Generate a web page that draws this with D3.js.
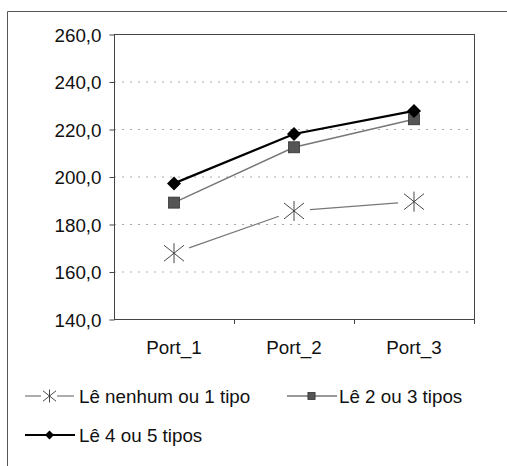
<!DOCTYPE html>
<html lang="pt">
<head>
<meta charset="utf-8">
<title>Leitura</title>
<script src="https://cdn.jsdelivr.net/npm/d3@7"></script>
<style>
  body { margin: 0; background: #fff; }
  text { font-family: "Liberation Sans", Arial, sans-serif; fill: #111; }
</style>
</head>
<body>
<script>
var w = 507, h = 466;
var fs = "18.8px";

// data
var categories = ["Port_1", "Port_2", "Port_3"];
var seriesNames = ["Lê nenhum ou 1 tipo", "Lê 2 ou 3 tipos", "Lê 4 ou 5 tipos"];
var nenhum = [167.7, 185.5, 189.4];
var doisTres = [189.0, 212.3, 224.1];
var quatroCinco = [197.1, 217.9, 227.6];
var yTicks = [140, 160, 180, 200, 220, 240, 260];

var series = [
  { name: seriesNames[0], values: nenhum, marker: "star", stroke: "#777", width: 1.2 },
  { name: seriesNames[1], values: doisTres, marker: "square", stroke: "#777", width: 1.4 },
  { name: seriesNames[2], values: quatroCinco, marker: "diamond", stroke: "#000", width: 2.2 }
];

var plot = { left: 114, right: 474, top: 34, bottom: 319 };

var x = d3.scaleBand().domain(categories).range([plot.left, plot.right]);
var y = d3.scaleLinear().domain([140, 260]).range([plot.bottom, plot.top]);

var svg = d3.select("body").append("svg").attr("width", w).attr("height", h);

// outer chart frame
svg.append("path")
  .attr("d", "M7.5," + h + "V11.5H" + w)
  .attr("fill", "none").attr("stroke", "#555").attr("stroke-width", 1);

// gridlines
svg.append("g").selectAll("line")
  .data(yTicks.slice(1, -1))
  .enter().append("line")
  .attr("x1", plot.left).attr("x2", plot.right)
  .attr("y1", function(d) { return y(d) + 0.5; })
  .attr("y2", function(d) { return y(d) + 0.5; })
  .attr("stroke", "#aaa").attr("stroke-width", 1)
  .attr("stroke-dasharray", "2,6");

// plot border
svg.append("rect")
  .attr("x", plot.left + 0.5).attr("y", plot.top + 0.5)
  .attr("width", plot.right - plot.left).attr("height", plot.bottom - plot.top)
  .attr("fill", "none").attr("stroke", "#444").attr("stroke-width", 1);

// y axis
var yAxis = d3.axisLeft(y).tickValues(yTicks).tickSize(5).tickPadding(8)
  .tickFormat(function(d) { return d3.format(".1f")(d).replace(".", ","); });
var gy = svg.append("g").attr("transform", "translate(" + (plot.left + 0.5) + ",0.5)").call(yAxis);
gy.select(".domain").remove();
gy.selectAll("line").attr("stroke", "#444");
gy.selectAll("text").attr("font-size", fs).attr("fill", "#111")
  .attr("font-family", "Liberation Sans, Arial, sans-serif").attr("dy", "0.36em");

// x axis
var xAxis = d3.axisBottom(x).tickSize(0).tickPadding(21);
var gx = svg.append("g").attr("transform", "translate(0," + (plot.bottom + 0.5) + ")").call(xAxis);
gx.select(".domain").remove();
gx.selectAll("text").attr("font-size", fs).attr("fill", "#111")
  .attr("font-family", "Liberation Sans, Arial, sans-serif");
// category separators
svg.append("g").selectAll("line")
  .data(categories.slice(1).concat(["end"]))
  .enter().append("line")
  .attr("x1", function(d, i) { return i < 2 ? x(d) + 0.5 : plot.right + 0.5; })
  .attr("x2", function(d, i) { return i < 2 ? x(d) + 0.5 : plot.right + 0.5; })
  .attr("y1", plot.bottom).attr("y2", plot.bottom + 5)
  .attr("stroke", "#444");

function cx(i) { return x(categories[i]) + x.bandwidth() / 2; }

function drawMarker(g, type, px, py, scale) {
  var s = scale || 1;
  if (type === "diamond") {
    var r = 7 * s;
    g.append("path")
      .attr("d", "M" + px + "," + (py - r) + "L" + (px + r) + "," + py + "L" + px + "," + (py + r) + "L" + (px - r) + "," + py + "Z")
      .attr("fill", "#000");
  } else if (type === "square") {
    var a = 5.5 * s;
    g.append("rect").attr("x", px - a).attr("y", py - a).attr("width", 2 * a).attr("height", 2 * a)
      .attr("fill", "#555").attr("stroke", "#333").attr("stroke-width", 0.8);
  } else {
    var r2 = 10 * s;
    var d = "M" + (px - r2) + "," + (py - r2 * 0.8) + "L" + (px + r2) + "," + (py + r2 * 0.8) +
            "M" + (px - r2) + "," + (py + r2 * 0.8) + "L" + (px + r2) + "," + (py - r2 * 0.8) +
            "M" + px + "," + (py - r2) + "L" + px + "," + (py + r2);
    g.append("path").attr("d", d).attr("stroke", "#333").attr("stroke-width", 0.9).attr("fill", "none");
  }
}

var line = d3.line().x(function(d, i) { return cx(i); }).y(function(d) { return y(d); });

series.forEach(function(s) {
  var g = svg.append("g");
  if (s.marker === "star") {
    // segments with gaps around the markers
    for (var i = 0; i < s.values.length - 1; i++) {
      var x1 = cx(i), y1 = y(s.values[i]), x2 = cx(i + 1), y2 = y(s.values[i + 1]);
      var len = Math.hypot(x2 - x1, y2 - y1), ux = (x2 - x1) / len, uy = (y2 - y1) / len, gap = 16;
      g.append("line")
        .attr("x1", x1 + ux * gap).attr("y1", y1 + uy * gap)
        .attr("x2", x2 - ux * gap).attr("y2", y2 - uy * gap)
        .attr("stroke", s.stroke).attr("stroke-width", s.width);
    }
  } else {
    g.append("path").datum(s.values).attr("d", line)
      .attr("fill", "none").attr("stroke", s.stroke).attr("stroke-width", s.width);
  }
  s.values.forEach(function(v, i) { drawMarker(g, s.marker, cx(i), y(v)); });
});

// legend
var legendPos = [[25, 396], [287, 396], [25, 435]];
series.forEach(function(s, i) {
  var lx = legendPos[i][0], ly = legendPos[i][1];
  var g = svg.append("g");
  if (s.marker === "star") {
    g.append("line").attr("x1", lx).attr("x2", lx + 16).attr("y1", ly).attr("y2", ly)
      .attr("stroke", s.stroke).attr("stroke-width", s.width);
    g.append("line").attr("x1", lx + 32).attr("x2", lx + 49).attr("y1", ly).attr("y2", ly)
      .attr("stroke", s.stroke).attr("stroke-width", s.width);
  } else {
    g.append("line").attr("x1", lx).attr("x2", lx + 50).attr("y1", ly).attr("y2", ly)
      .attr("stroke", s.stroke).attr("stroke-width", s.width);
  }
  drawMarker(g, s.marker, lx + 24.5, ly, 0.65);
  g.append("text").attr("x", lx + (s.marker === "square" ? 52 : 54)).attr("y", ly).attr("dy", "0.36em")
    .attr("font-size", fs).text(s.name);
});
</script>
</body>
</html>
